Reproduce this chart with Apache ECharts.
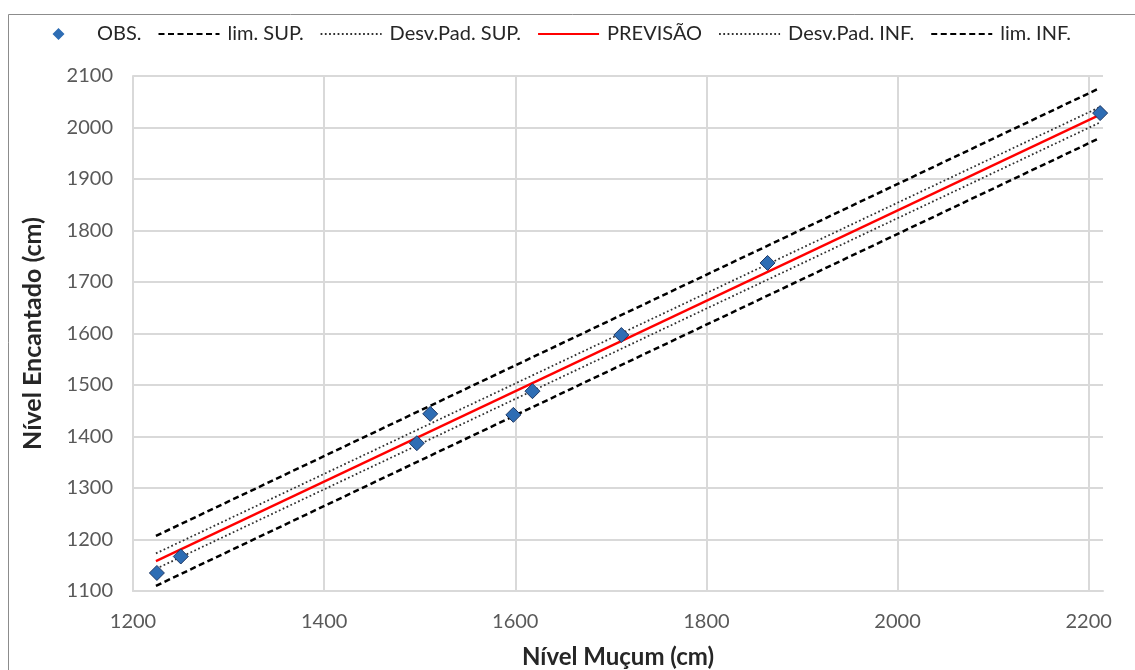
<!DOCTYPE html>
<html>
<head>
<meta charset="utf-8">
<script src="https://cdn.jsdelivr.net/npm/echarts@6/dist/echarts.min.js"></script>
<style>
html,body{margin:0;padding:0;background:#fff;}
#c{width:1135px;height:670px;}
</style>
</head>
<body>
<div id="c"></div>
<script>
const obsX = [1225, 1250, 1497, 1511, 1598, 1618, 1711, 1864, 2212];
const obsY = [1135, 1167, 1387, 1444, 1442, 1488, 1597, 1737, 2028];
const lineX = [1224, 2211];
const previsao = [1158, 2024];
const limSup = [1207, 2076];
const limInf = [1110, 1979];
const desvSup = [1173, 2039];
const desvInf = [1143, 2009];
const xTicks = [1200, 1400, 1600, 1800, 2000, 2200];
const yTicks = [1100, 1200, 1300, 1400, 1500, 1600, 1700, 1800, 1900, 2000, 2100];

const pairs = (xs, ys) => xs.map((x, i) => [x, ys[i]]);
const FONT = 'Lato';
const hideSym = { opacity: 0 };
// diamond centred in a 61x13 legend key (tiny corner specks fix the bounding box)
const DIAMOND_KEY = 'path://M0,0 L0.01,0 L0,0.01 Z M61,13 L60.99,13 L61,12.99 Z M30.5,0.5 L36.5,6.5 L30.5,12.5 L24.5,6.5 Z';

const chart = echarts.init(document.getElementById('c'));
chart.setOption({
  animation: false,
  textStyle: { fontFamily: FONT },
  graphic: [{
    type: 'rect', z: -10,
    shape: { x: 8.5, y: 14.5, width: 1300, height: 800 },
    style: { fill: 'none', stroke: '#8c8c8c', lineWidth: 1 }
  }],
  legend: {
    top: 19, left: 23,
    itemWidth: 61, itemHeight: 13, itemGap: 16,
    symbolKeepAspect: false,
    textStyle: { fontFamily: FONT, fontSize: 20, color: '#262626', padding: [0, 0, 0, 3] },
    data: [
      { name: 'OBS.', icon: DIAMOND_KEY, itemStyle: { color: '#2e6db4', borderWidth: 0, opacity: 1 } },
      { name: 'lim. SUP.', itemStyle: hideSym },
      { name: 'Desv.Pad. SUP.', itemStyle: hideSym },
      { name: 'PREVISÃO', itemStyle: hideSym },
      { name: 'Desv.Pad. INF.', itemStyle: hideSym },
      { name: 'lim. INF.', itemStyle: hideSym }
    ]
  },
  grid: { left: 133, right: 32, top: 76, bottom: 79, containLabel: false, outerBoundsMode: 'none' },
  xAxis: {
    type: 'value', min: 1200, max: 2215, interval: 200,
    name: 'Nível Muçum (cm)', nameLocation: 'middle', nameGap: 54,
    nameTextStyle: { fontFamily: FONT, fontSize: 24, fontWeight: 'bold', color: '#262626' },
    axisLine: { show: true, lineStyle: { color: '#d9d9d9', width: 2 } },
    axisTick: { show: false },
    axisLabel: { showMaxLabel: false, fontSize: 20, color: '#595959', margin: 21,
      formatter: v => xTicks.includes(v) ? String(v) : '' },
    splitLine: { show: true, showMaxLine: false, lineStyle: { color: '#d9d9d9', width: 2 } }
  },
  yAxis: {
    type: 'value', min: 1100, max: 2100, interval: 100,
    name: 'Nível Encantado (cm)', nameLocation: 'middle', nameGap: 88,
    nameTextStyle: { fontFamily: FONT, fontSize: 25, fontWeight: 'bold', color: '#262626' },
    axisLine: { show: true, lineStyle: { color: '#d9d9d9', width: 2 } },
    axisTick: { show: false },
    axisLabel: { fontSize: 20, color: '#595959', margin: 20,
      formatter: v => yTicks.includes(v) ? String(v) : '' },
    splitLine: { show: true, lineStyle: { color: '#d9d9d9', width: 2 } }
  },
  series: [
    { name: 'OBS.', type: 'scatter', symbol: 'diamond', symbolSize: 15, z: 10,
      itemStyle: { color: '#2e6db4', borderColor: '#1f3864', borderWidth: 1, opacity: 1 },
      data: pairs(obsX, obsY) },
    { name: 'lim. SUP.', type: 'line', symbol: 'none',
      lineStyle: { color: '#000', width: 2.5, type: [6, 3.5] }, itemStyle: { color: '#000' },
      data: pairs(lineX, limSup) },
    { name: 'Desv.Pad. SUP.', type: 'line', symbol: 'none',
      lineStyle: { color: '#303030', width: 1.75, type: [1.75, 2.5] }, itemStyle: { color: '#303030' },
      data: pairs(lineX, desvSup) },
    { name: 'PREVISÃO', type: 'line', symbol: 'none',
      lineStyle: { color: '#ff0000', width: 2.25 }, itemStyle: { color: '#ff0000' },
      data: pairs(lineX, previsao) },
    { name: 'Desv.Pad. INF.', type: 'line', symbol: 'none',
      lineStyle: { color: '#303030', width: 1.75, type: [1.75, 2.5] }, itemStyle: { color: '#303030' },
      data: pairs(lineX, desvInf) },
    { name: 'lim. INF.', type: 'line', symbol: 'none',
      lineStyle: { color: '#000', width: 2.5, type: [6, 3.5] }, itemStyle: { color: '#000' },
      data: pairs(lineX, limInf) }
  ]
});
</script>
</body>
</html>
